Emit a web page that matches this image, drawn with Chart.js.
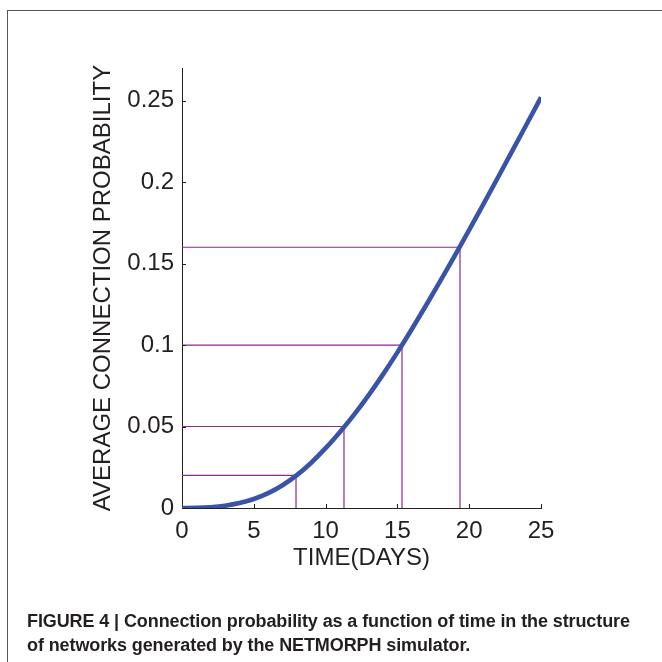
<!DOCTYPE html>
<html>
<head>
<meta charset="utf-8">
<script src="https://cdn.jsdelivr.net/npm/chart.js@4.4.1/dist/chart.umd.min.js"></script>
<style>
  html, body { margin: 0; padding: 0; background: #fff; }
  .page { position: relative; width: 662px; height: 662px; overflow: hidden; }
  .frame { position: absolute; left: 7px; top: 10px; width: 700px; height: 700px;
           border-left: 1px solid #555; border-top: 1px solid #555; }
  .wrap { position: absolute; left: 0; top: 0; width: 662px; height: 662px; }
  .caption { position: absolute; left: 27px; top: 609px; width: 640px;
             font-family: "Liberation Sans", Arial, sans-serif;
             font-weight: bold; font-size: 18px; line-height: 24px; color: #231f20;
             letter-spacing: -0.1px; }
</style>
</head>
<body>
<div class="page">
  <div class="frame"></div>
  <div class="wrap"><canvas id="chart" width="662" height="662"></canvas></div>
  <div class="caption">FIGURE 4 | Connection probability as a function of time in the structure<br>of networks generated by the NETMORPH simulator.</div>
</div>
<script>
// time in days and mean connection probability
const days = [0, 1, 2, 3, 4, 5, 6, 7, 8, 9, 10, 11, 12, 13, 14, 15, 16, 17, 18, 19, 20, 21, 22, 23, 24, 25];
const probability = [0, 0.0001, 0.0005, 0.0014, 0.003, 0.0055, 0.0091, 0.014, 0.0202, 0.0278, 0.0367, 0.0467, 0.0575, 0.0693, 0.082, 0.0955, 0.1097, 0.1244, 0.1395, 0.1549, 0.1706, 0.1866, 0.2028, 0.2191, 0.2355, 0.252];

// reference levels and the day each is reached
const levels = [0.02, 0.05, 0.1, 0.16];
const levelDays = [7.94, 11.28, 15.32, 19.36];

const xTicks = [0, 5, 10, 15, 20, 25];
const yTicks = [0, 0.05, 0.1, 0.15, 0.2, 0.25];

const curve = days.map((d, i) => ({ x: d, y: probability[i] }));

const guides = levels.map((p, i) => ({
    data: [{ x: 0, y: p }, { x: levelDays[i], y: p }, { x: levelDays[i], y: 0 }],
    borderColor: '#8a2a8e',
    borderWidth: 1.2,
    pointRadius: 0,
    tension: 0,
    order: 2
}));

// short tick marks pointing into the plot
const innerTicks = {
    id: 'innerTicks',
    afterDraw(chart) {
        const c = chart.ctx;
        const xs = chart.scales.x, ys = chart.scales.y;
        c.save();
        c.strokeStyle = '#231f20';
        c.lineWidth = 1;
        xTicks.forEach(v => {
            if (v === 0) return;
            const px = Math.round(xs.getPixelForValue(v)) + 0.5;
            c.beginPath();
            c.moveTo(px, ys.bottom);
            c.lineTo(px, ys.bottom - 4);
            c.stroke();
        });
        yTicks.forEach(v => {
            if (v === 0) return;
            const py = Math.round(ys.getPixelForValue(v)) + 0.5;
            c.beginPath();
            c.moveTo(xs.left, py);
            c.lineTo(xs.left + 4, py);
            c.stroke();
        });
        c.restore();
    }
};

const font = { family: '"Liberation Sans", Arial, sans-serif', size: 24 };

new Chart(document.getElementById('chart'), {
    type: 'line',
    data: {
        datasets: [
            {
                data: curve,
                borderColor: '#3953a6',
                borderWidth: 4.6,
                pointRadius: 0,
                cubicInterpolationMode: 'monotone',
                borderCapStyle: 'butt',
                order: 1
            },
            ...guides
        ]
    },
    options: {
        responsive: false,
        animation: false,
        layout: { padding: { left: 89, right: 121, top: 68, bottom: 89 } },
        plugins: { legend: { display: false }, tooltip: { enabled: false } },
        scales: {
            x: {
                type: 'linear',
                min: 0,
                max: 25,
                afterFit: s => { s.height = 65; },
                grid: { display: false, drawTicks: false },
                border: { display: true, color: '#231f20', width: 1 },
                ticks: {
                    stepSize: 5, padding: 9, color: '#231f20', font: font,
                    maxRotation: 0
                },
                title: { display: true, text: 'TIME(DAYS)', color: '#231f20', font: font, padding: 0 }
            },
            y: {
                min: 0,
                max: 0.27,
                afterFit: s => { s.width = 93; },
                grid: { display: false, drawTicks: false },
                border: { display: true, color: '#231f20', width: 1 },
                ticks: {
                    stepSize: 0.05, includeBounds: false, padding: 8, color: '#231f20', font: font,
                    callback: v => String(+v.toFixed(2))
                },
                title: { display: true, text: 'AVERAGE CONNECTION PROBABILITY', color: '#231f20', font: font, padding: 0 }
            }
        }
    },
    plugins: [innerTicks]
});
</script>
</body>
</html>
